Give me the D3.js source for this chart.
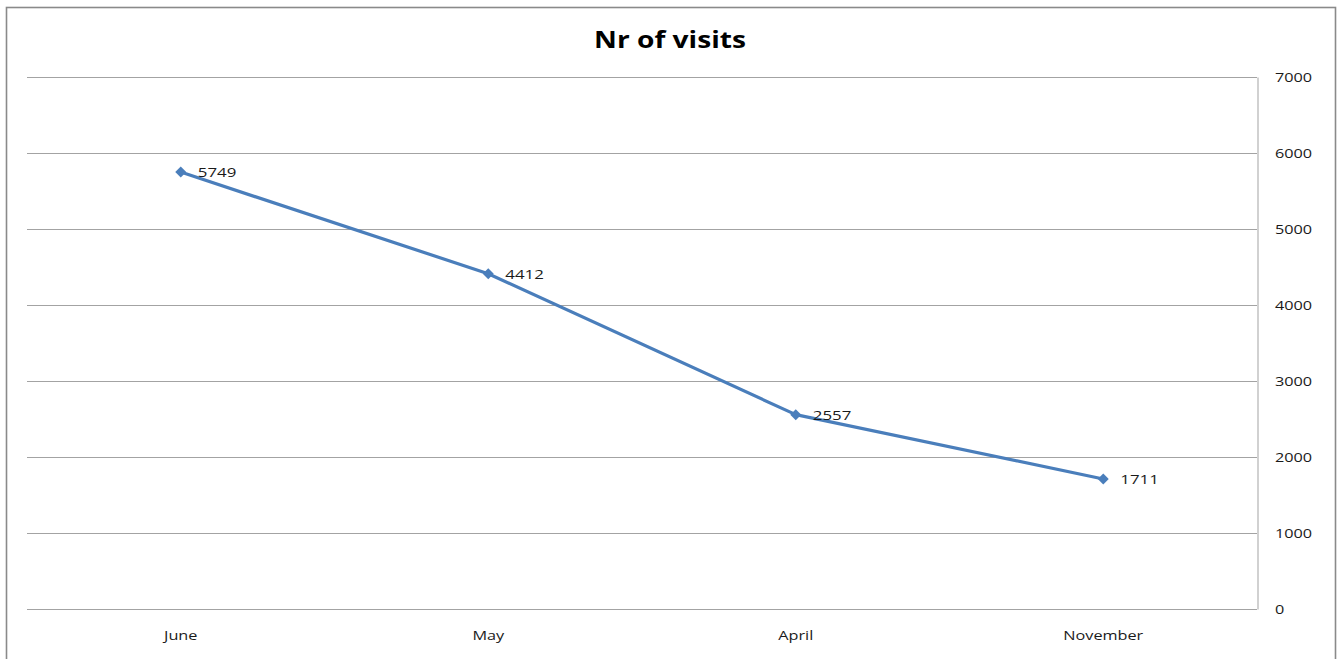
<!DOCTYPE html>
<html>
<head>
<meta charset="utf-8">
<script src="https://d3js.org/d3.v7.min.js"></script>
<style>
  body { margin: 0; background: #fff; }
  text { font-family: "Open Sans", sans-serif; fill: #1a1a1a; }
</style>
</head>
<body>
<div id="chart"></div>
<script>
// chart data
var months = ['June', 'May', 'April', 'November'];
var visits = [5749, 4412, 2557, 1711];
var yTicks = [0, 1000, 2000, 3000, 4000, 5000, 6000, 7000];
var chartTitle = 'Nr of visits';

var W = 1339, H = 659;
// plot area
var margin = {top: 77, right: 82, bottom: 50, left: 27};
var stretch = 1.25; // text in the picture is drawn a bit wide

var svg = d3.select('#chart').append('svg')
    .attr('width', W)
    .attr('height', H);

// outer chart frame
svg.append('rect')
    .attr('x', 6.5)
    .attr('y', 7.5)
    .attr('width', 1329)
    .attr('height', 670)
    .attr('fill', '#fff')
    .attr('stroke', '#8a8a8a')
    .attr('stroke-width', 1.6);

var x = d3.scalePoint()
    .domain(months)
    .range([margin.left, W - margin.right])
    .padding(0.5);

var y = d3.scaleLinear()
    .domain([0, 7000])
    .range([H - margin.bottom, margin.top]);

// gridlines
svg.append('g')
    .selectAll('line')
    .data(yTicks)
    .enter().append('line')
      .attr('x1', margin.left)
      .attr('x2', W - margin.right)
      .attr('y1', function(d) { return Math.round(y(d)) + 0.5; })
      .attr('y2', function(d) { return Math.round(y(d)) + 0.5; })
      .attr('stroke', '#a3a3a3')
      .attr('stroke-width', 1);

// right value axis
var yAxis = svg.append('g')
    .attr('transform', 'translate(' + (W - margin.right + 0.5) + ',0)')
    .call(d3.axisRight(y).tickValues(yTicks).tickSize(0).tickPadding(0));
yAxis.select('.domain').attr('stroke', '#a3a3a3');
yAxis.selectAll('.tick text').remove();

svg.append('g')
    .selectAll('text')
    .data(yTicks)
    .enter().append('text')
      .attr('transform', function(d) {
        return 'translate(' + (W - margin.right + 18) + ',' + y(d) + ') scale(' + stretch + ',1)';
      })
      .attr('dy', '0.36em')
      .style('font-size', '13px')
      .text(function(d) { return d; });

// category labels
svg.append('g')
    .selectAll('text')
    .data(months)
    .enter().append('text')
      .attr('transform', function(d) {
        return 'translate(' + x(d) + ',' + (H - 19) + ') scale(' + stretch + ',1)';
      })
      .attr('text-anchor', 'middle')
      .style('font-size', '13px')
      .text(function(d) { return d; });

// title
svg.append('text')
    .attr('transform', 'translate(670,48) scale(' + stretch + ',1)')
    .attr('text-anchor', 'middle')
    .style('font-size', '22.5px')
    .style('font-weight', 'bold')
    .style('fill', '#000')
    .text(chartTitle);

var data = months.map(function(m, i) { return {month: m, value: visits[i]}; });

// line
var line = d3.line()
    .x(function(d) { return x(d.month); })
    .y(function(d) { return y(d.value); });

svg.append('path')
    .datum(data)
    .attr('d', line)
    .attr('fill', 'none')
    .attr('stroke', '#4a7ebb')
    .attr('stroke-width', 3.2)
    .attr('stroke-linejoin', 'round');

// diamond markers
svg.append('g')
    .selectAll('path')
    .data(data)
    .enter().append('path')
      .attr('d', d3.symbol(d3.symbolSquare, 60))
      .attr('transform', function(d) {
        return 'translate(' + x(d.month) + ',' + y(d.value) + ') rotate(45)';
      })
      .attr('fill', '#4a7ebb');

// data labels
svg.append('g')
    .selectAll('text')
    .data(data)
    .enter().append('text')
      .attr('transform', function(d) {
        return 'translate(' + (x(d.month) + 17) + ',' + y(d.value) + ') scale(' + stretch + ',1)';
      })
      .attr('dy', '0.36em')
      .style('font-size', '13.5px')
      .text(function(d) { return d.value; });
</script>
</body>
</html>
